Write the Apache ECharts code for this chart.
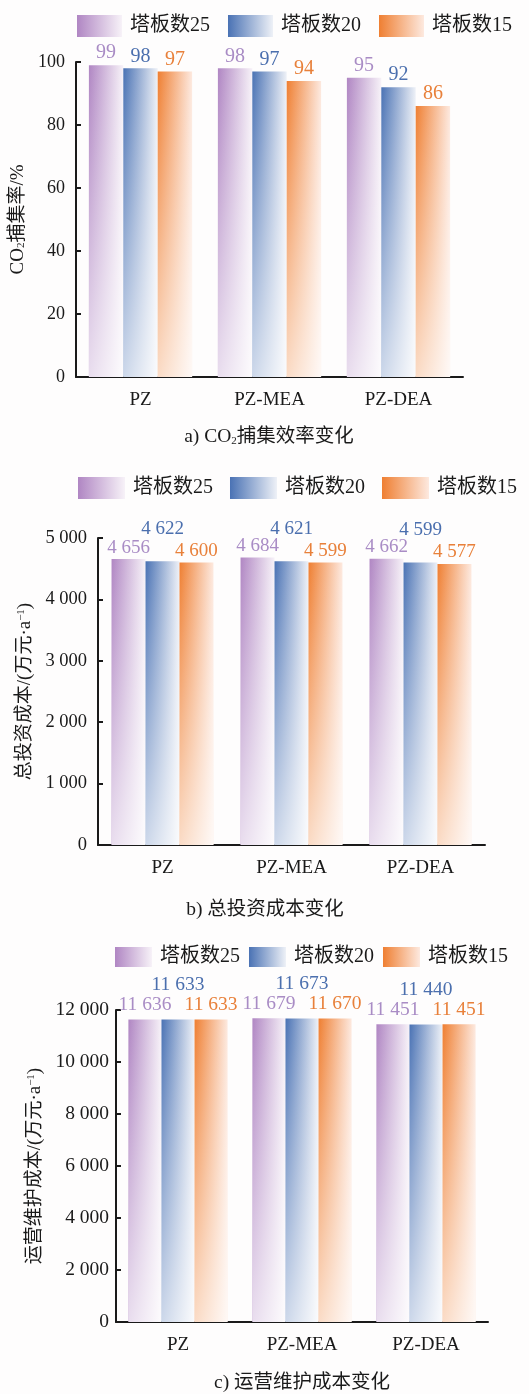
<!DOCTYPE html>
<html>
<head>
<meta charset="utf-8">
<script src="https://cdn.jsdelivr.net/npm/echarts@6/dist/echarts.min.js"></script>
<style>html,body{margin:0;padding:0;background:#fefdfd;}#c{width:529px;height:1394px;}</style>
</head>
<body>
<div id="c"></div>
<script>
const categories = ['PZ', 'PZ-MEA', 'PZ-DEA'];
const seriesNames = ['塔板数25', '塔板数20', '塔板数15'];
// a) CO2 capture efficiency (%)
const effT25 = [99, 98, 95];
const effT20 = [98, 97, 92];
const effT15 = [97, 94, 86];
// b) total investment cost
const invT25 = [4656, 4684, 4662];
const invT20 = [4622, 4621, 4599];
const invT15 = [4600, 4599, 4577];
// c) O&M cost
const omT25 = [11636, 11679, 11451];
const omT20 = [11633, 11673, 11440];
const omT15 = [11633, 11670, 11451];

const FONT = "'Liberation Serif', 'Noto Sans CJK SC', serif";
const INK = '#1a1a1a';
const fmt = v => String(v).replace(/\B(?=(\d{3})+(?!\d))/g, ' ');

const hGrad = (c0, c1) => ({type: 'linear', x: 0, y: 0, x2: 1, y2: 0,
  colorStops: [{offset: 0, color: c0}, {offset: 1, color: c1}]});
const barColors = [hGrad('#b086c3', '#f7f2f8'), hGrad('#4a72b4', '#eef1f7'), hGrad('#ef7f32', '#fde9df')];
const labelColors = ['#a98cc5', '#4b6fae', '#e8803a'];
const fade = {type: 'linear', x: 0, y: 0, x2: 0, y2: 1,
  colorStops: [{offset: 0, color: 'rgba(255,255,255,0)'}, {offset: 1, color: 'rgba(255,255,255,0.72)'}]};

const panels = [
  {data: [effT25, effT20, effT15], grid: {left: 76, top: 62, width: 387, height: 315},
   min: 0, max: 100, interval: 20, tickFont: 18, labelFont: 20, labelDist: 2, blueOffset: 0,
   gap: '20%', yLabelMargin: 11, nameGap: 39,
   name: '{n|CO}{sub|2}{n|捕集率/%}',
   legend: {left: 72, top: 10, itemWidth: 45, itemHeight: 22, itemGap: 18}},
  {data: [invT25, invT20, invT15], grid: {left: 98, top: 538, width: 387, height: 307},
   min: 0, max: 5000, interval: 1000, tickFont: 18.5, labelFont: 19, labelDist: 2, blueOffset: -21,
   gap: '21%', yLabelMargin: 11, nameGap: 56,
   name: '{n|总投资成本/(万元·a}{sup|−1}{n|)}',
   legend: {left: 73, top: 472, itemWidth: 47, itemHeight: 22, itemGap: 17}},
  {data: [omT25, omT20, omT15], grid: {left: 116, top: 1010, width: 372, height: 312},
   min: 0, max: 12000, interval: 2000, tickFont: 19.5, labelFont: 19.5, labelDist: 5, blueOffset: -20,
   gap: '20%', yLabelMargin: 7, nameGap: 65,
   name: '{n|运营维护成本/(万元·a}{sup|−1}{n|)}',
   legend: {left: 110, top: 942, itemWidth: 37, itemHeight: 20, itemGap: 9}}
];

const nameRich = {
  n: {fontSize: 19, fontFamily: FONT, color: INK},
  sub: {fontSize: 11, fontFamily: FONT, color: INK, verticalAlign: 'bottom'},
  sup: {fontSize: 11, fontFamily: FONT, color: INK, verticalAlign: 'top'}
};

const option = {
  backgroundColor: '#fefdfd',
  animation: false,
  grid: panels.map(p => p.grid),
  legend: panels.map(p => Object.assign({
    data: seriesNames, icon: 'rect', orient: 'horizontal',
    textStyle: {fontSize: 20, fontFamily: FONT, color: INK, padding: [0, 0, 0, 3]}
  }, p.legend)),
  xAxis: [],
  yAxis: [],
  series: [],
  graphic: []
};

panels.forEach((p, i) => {
  option.xAxis.push({
    type: 'category', gridIndex: i, data: categories,
    axisLine: {show: true, lineStyle: {color: INK, width: 2}},
    axisTick: {show: false},
    axisLabel: {fontSize: 19, fontFamily: FONT, color: INK, margin: 14}
  });
});
panels.forEach((p, i) => {
  option.xAxis.push({type: 'category', gridIndex: i, data: categories, show: false});
});
panels.forEach((p, i) => {
  option.yAxis.push({
    type: 'value', gridIndex: i, min: p.min, max: p.max, interval: p.interval,
    axisLine: {show: true, lineStyle: {color: INK, width: 2}},
    axisTick: {show: true, inside: true, length: 5, lineStyle: {color: INK, width: 2}},
    splitLine: {show: false},
    axisLabel: {fontSize: p.tickFont, fontFamily: FONT, color: INK, margin: p.yLabelMargin, formatter: v => fmt(v)},
    name: p.name, nameLocation: 'middle', nameGap: p.nameGap,
    nameTextStyle: {fontSize: 19, fontFamily: FONT, color: INK, rich: nameRich}
  });
  p.data.forEach((vals, k) => {
    option.series.push({
      type: 'bar', name: seriesNames[k], xAxisIndex: i, yAxisIndex: i, data: vals,
      barCategoryGap: p.gap, barGap: '0%',
      itemStyle: {color: barColors[k]},
      label: {show: true, position: 'top', distance: p.labelDist, color: labelColors[k],
        fontSize: p.labelFont, fontFamily: FONT,
        offset: [0, k === 1 ? p.blueOffset : 0],
        formatter: o => fmt(o.value)}
    });
  });
  p.data.forEach((vals, k) => {
    option.series.push({
      type: 'bar', name: 'fade' + i + k, xAxisIndex: 3 + i, yAxisIndex: i, data: vals,
      barCategoryGap: p.gap, barGap: '0%', silent: true, z: 3,
      itemStyle: {color: fade}, label: {show: false}
    });
  });
});

const subRich = {
  n: {fontSize: 19.5, fontFamily: FONT, fill: INK},
  sub: {fontSize: 11, fontFamily: FONT, fill: INK, verticalAlign: 'bottom'}
};
[['{n|a) CO}{sub|2}{n|捕集效率变化}', 269, 437],
 ['{n|b) 总投资成本变化}', 265, 910],
 ['{n|c) 运营维护成本变化}', 302, 1383]].forEach(([t, x, y]) => {
  option.graphic.push({type: 'text', x: x, y: y,
    style: {text: t, rich: subRich, align: 'center', verticalAlign: 'middle', fill: INK,
      font: "19.5px 'Liberation Serif', 'Noto Sans CJK SC', serif"}});
});

const chart = echarts.init(document.getElementById('c'), null, {renderer: 'canvas'});
chart.setOption(option);
</script>
</body>
</html>
